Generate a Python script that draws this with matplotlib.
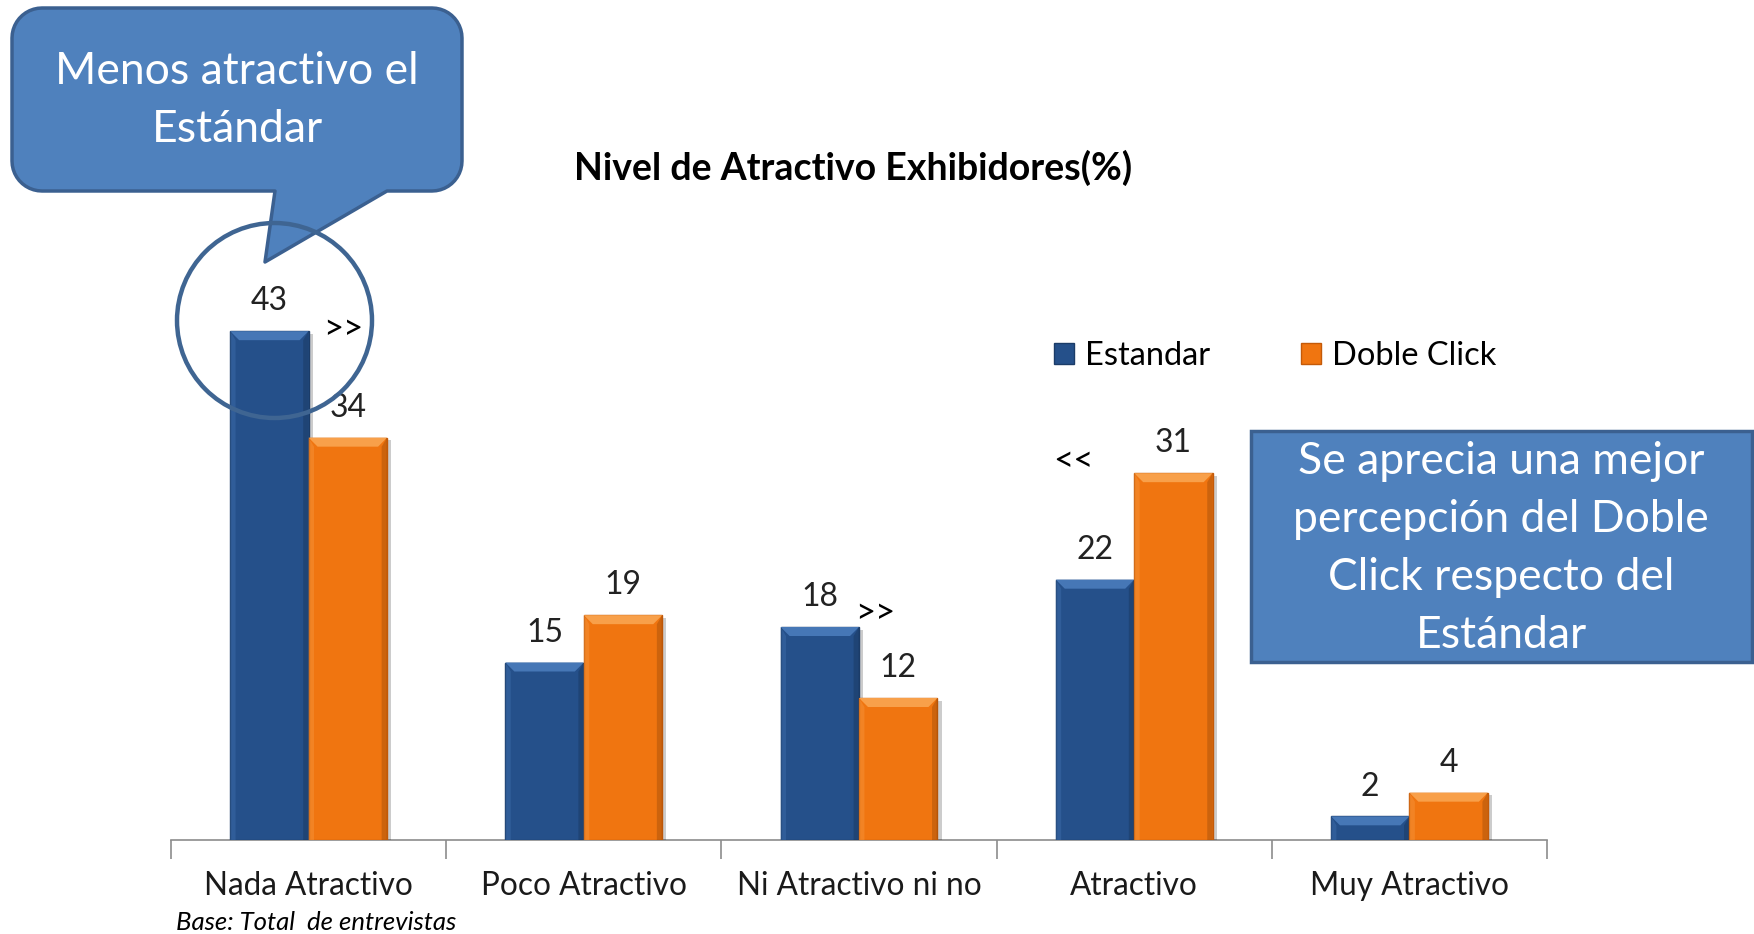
import numpy as np
import matplotlib
matplotlib.use('Agg')
import matplotlib.pyplot as plt
from matplotlib.patches import Polygon, Circle, Rectangle, Patch
import matplotlib.patheffects as pe

# ---------------- data ----------------
categories = ["Nada Atractivo", "Poco Atractivo", "Ni Atractivo ni no", "Atractivo", "Muy Atractivo"]
estandar = [43, 15, 18, 22, 2]
doble_click = [34, 19, 12, 31, 4]
series_names = ["Estandar", "Doble Click"]
title = "Nivel de Atractivo Exhibidores(%)"
base_note = "Base: Total  de entrevistas"
callout_lines = ["Menos atractivo el", "Estándar"]
box_lines = ["Se aprecia una mejor", "percepción del Doble", "Click respecto del", "Estándar"]
sig_x = [0.125, 2.06, 2.78]
sig_y = [43.2, 19.2, 32.0]
sig_text = [">>", ">>", "<<"]

# ---------------- style ----------------
W, H = 1754, 934
plt.rcParams['font.family'] = ['Lato', 'DejaVu Sans']
BLUE, BLUE_TOP, BLUE_EDGE = '#25508A', '#4677B6', '#1B3C68'
ORANGE, ORANGE_TOP, ORANGE_EDGE = '#F07510', '#F8A04A', '#C45A08'
BOX_FC, BOX_EC = '#4F81BD', '#3B6090'

fig = plt.figure(figsize=(W / 100, H / 100), dpi=100)
ax = fig.add_axes([171 / W, 94 / H, 1376 / W, 710 / H])
ax.set_xlim(-0.5, 4.5)
ax.set_ylim(0, 60)

x = np.arange(len(categories))
bw = 0.285
shadow = [pe.SimplePatchShadow(offset=(3, -2), shadow_rgbFace='#000000', alpha=0.2), pe.Normal()]
b1 = ax.bar(x - bw / 2, estandar, bw, color=BLUE, edgecolor=BLUE_EDGE, linewidth=1, zorder=3,
            path_effects=shadow)
b2 = ax.bar(x + bw / 2, doble_click, bw, color=ORANGE, edgecolor=ORANGE_EDGE, linewidth=1, zorder=3,
            path_effects=shadow)

# bevel on top of each bar (derived from bar geometry)
dy = 9 * 60 / 710
dx = 9 * 5 / 1376
for bars, top in ((b1, BLUE_TOP), (b2, ORANGE_TOP)):
    for r in bars:
        x0, w, h = r.get_x(), r.get_width(), r.get_height()
        d = min(dy, h * 0.45)
        ax.add_patch(Polygon([(x0, h), (x0 + w, h), (x0 + w - dx, h - d), (x0 + dx, h - d)],
                             closed=True, fc=top, ec='none', zorder=4))
        ax.add_patch(Polygon([(x0, h), (x0 + dx * 0.6, h - d), (x0 + dx * 0.6, 0), (x0, 0)],
                             closed=True, fc=top, ec='none', alpha=0.35, zorder=4))
        ax.add_patch(Polygon([(x0 + w, h), (x0 + w - dx * 0.6, h - d), (x0 + w - dx * 0.6, 0), (x0 + w, 0)],
                             closed=True, fc='black', ec='none', alpha=0.15, zorder=4))

for bars, vals in ((b1, estandar), (b2, doble_click)):
    for r, v in zip(bars, vals):
        ax.annotate(f"{v}", (r.get_x() + r.get_width() / 2, v), xytext=(0, 15),
                    textcoords='offset points', ha='center', va='baseline', fontsize=23, color='#222222')

for sx, sy, st in zip(sig_x, sig_y, sig_text):
    ax.text(sx, sy, st, ha='center', va='center', fontsize=25, color='black')

for s in ['top', 'right', 'left']:
    ax.spines[s].set_visible(False)
ax.spines['bottom'].set_color('#8C8C8C')
ax.spines['bottom'].set_linewidth(1.2)
ax.set_yticks([])
ax.set_xticks(x)
ax.set_xticklabels(categories, fontsize=22.7, color='#1a1a1a')
ax.tick_params(axis='x', which='major', length=0, pad=22)
ax.set_xticks(np.arange(-0.5, len(categories)), minor=True)
ax.tick_params(axis='x', which='minor', length=14, color='#8C8C8C', width=1.2)

fig.text(853 / W, 1 - 168 / H, title, ha='center', va='center', fontsize=27, fontweight='bold', color='black')
fig.text(176 / W, 1 - 922 / H, base_note, ha='left', va='center', fontsize=18.5, style='italic', color='black')

fig.legend(handles=[Patch(fc=BLUE, ec=BLUE_EDGE), Patch(fc=ORANGE, ec=ORANGE_EDGE)], labels=series_names,
           loc='center left', bbox_to_anchor=(1054 / W, 1 - 356 / H), ncol=2, frameon=False, fontsize=23.5,
           handlelength=0.6, handleheight=0.6, handletextpad=0.34, columnspacing=2.8,
           borderpad=0, borderaxespad=0)

# ---------------- overlay annotations (pixel space) ----------------
ov = fig.add_axes([0, 0, 1, 1], zorder=10)
ov.set_xlim(0, W)
ov.set_ylim(H, 0)
ov.axis('off')
ov.patch.set_visible(False)


def arc(cx, cy, r, a0, a1, n=12):
    t = np.radians(np.linspace(a0, a1, n))
    return list(zip(cx + r * np.cos(t), cy + r * np.sin(t)))


x0, y0, x1, y1, r = 12, 8, 462, 191, 30
pts = []
pts += arc(x0 + r, y0 + r, r, 180, 270)
pts += arc(x1 - r, y0 + r, r, 270, 360)
pts += arc(x1 - r, y1 - r, r, 0, 90)
pts += [(387, y1), (265, 262), (275, y1)]
pts += arc(x0 + r, y1 - r, r, 90, 180)
ov.add_patch(Polygon(pts, closed=True, fc=BOX_FC, ec=BOX_EC, lw=2.5, joinstyle='round'))
for i, line in enumerate(callout_lines):
    ov.text(237, 72 + 58 * i, line, ha='center', va='center', fontsize=32, color='white')

ov.add_patch(Circle((274.5, 320.5), 97.5, fill=False, ec='#3F6592', lw=3.2))

ov.add_patch(Rectangle((1251, 431), 501, 231, fc=BOX_FC, ec=BOX_EC, lw=2.5))
for i, line in enumerate(box_lines):
    ov.text(1501, 461 + 58 * i, line, ha='center', va='center', fontsize=32, color='white')

fig.savefig('out.png', dpi=100)
